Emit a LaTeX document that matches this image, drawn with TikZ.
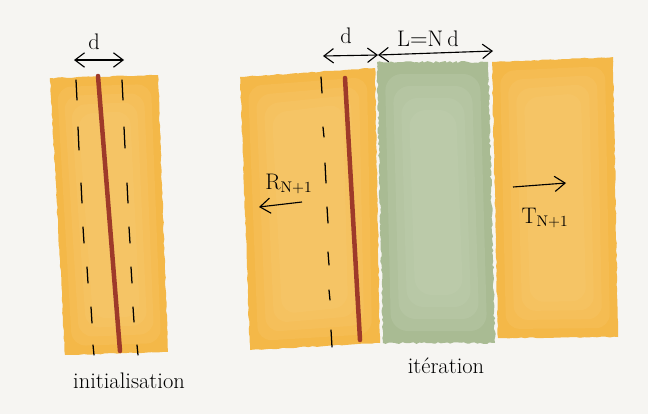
\documentclass[tikz,border=0pt]{standalone}
\usetikzlibrary{
    arrows.meta,
    decorations.pathmorphing
}
\definecolor{paper}{HTML}{F6F5F2}
\definecolor{amber}{HTML}{F4B848}
\definecolor{amberlight}{HTML}{F9CD78}
\definecolor{sage}{HTML}{A9BB93}
\definecolor{sagelight}{HTML}{C2CFB2}
\definecolor{rust}{HTML}{9E3A2A}

\begin{document}
\begin{tikzpicture}[
        x=0.025cm, y=-0.025cm,
        every node/.style={
            font=\fontsize{16pt}{19pt}\selectfont,
            inner sep=0pt
        },
        slab/.style={
            fill=amber,
            decorate,
            decoration={random steps, segment length=3pt, amplitude=0.4pt}
        },
        slabcore/.style={
            fill=amberlight,
            opacity=0.22,
            rounded corners=10pt
        },
        medium/.style={
            fill=sage,
            decorate,
            decoration={random steps, segment length=2pt, amplitude=0.7pt}
        },
        mediumcore/.style={
            fill=sagelight,
            opacity=0.3,
            rounded corners=12pt
        },
        layer/.style={
            draw=rust,
            line width=3.2pt,
            line cap=round
        },
        tick/.style={
            draw=black,
            line width=0.9pt,
            line cap=round
        },
        span/.style={
            {Straight Barb[length=2.4mm,width=3.6mm]}-{Straight Barb[length=2.4mm,width=3.6mm]},
            draw=black,
            line width=0.8pt
        },
        wave/.style={
            -{Straight Barb[length=2.6mm,width=3.8mm]},
            draw=black,
            line width=0.8pt
        }
    ]

    % background
    \fill[paper] (0,0) rectangle (648,414);

    % initialisation
    \fill[slab] (50,78) -- (158,75) -- (168,352) -- (65,355) -- cycle;
    \foreach \s in {1,...,4}
        \fill[slabcore] (50+7*\s,78+9*\s) -- (158-7*\s,75+9*\s)
            -- (168-7*\s,352-9*\s) -- (65+7*\s,355-9*\s) -- cycle;

    \draw[layer] (98,76) -- (120,351);

    \foreach \x/\ya/\yb in {76/80/100, 78/127/150, 81/183/203, 83/227/243,
                            87/267/283, 91/307/323, 93/345/355}
        \draw[tick] (\x,\ya) -- (\x+1,\yb);
    \foreach \x/\ya/\yb in {122/80/100, 124/127/148, 127/183/203, 129/227/243,
                            131/267/283, 133/307/322, 137/345/355}
        \draw[tick] (\x,\ya) -- (\x+1,\yb);

    \coordinate (dinitL) at (74,60);
    \coordinate (dinitR) at (124,60);
    \draw[span] (dinitL) -- (dinitR);
    \node (dinit) at (94,42) {d};

    \node (init) at (129,381) {initialisation};

    % iteration
    \fill[slab] (240,77) -- (375,68) -- (380,343) -- (250,350) -- cycle;
    \foreach \s in {1,...,4}
        \fill[slabcore] (240+8*\s,77+9*\s) -- (375-8*\s,68+9*\s)
            -- (380-8*\s,343-9*\s) -- (250+8*\s,350-9*\s) -- cycle;

    \fill[medium] (377,62) -- (488,62) -- (495,343) -- (383,343) -- cycle;
    \foreach \s in {1,...,4}
        \fill[mediumcore] (377+8*\s,62+12*\s) -- (488-8*\s,62+12*\s)
            -- (495-8*\s,343-12*\s) -- (383+8*\s,343-12*\s) -- cycle;

    \fill[slab] (492,62) -- (613,57) -- (618,337) -- (498,338) -- cycle;
    \foreach \s in {1,...,4}
        \fill[slabcore] (492+8*\s,62+9*\s) -- (613-8*\s,57+9*\s)
            -- (618-8*\s,337-9*\s) -- (498+8*\s,338-9*\s) -- cycle;

    \draw[layer] (345,78) -- (360,340);

    \foreach \x/\ya/\yb in {321/77/93, 323/127/137, 325/163/183, 327/207/223,
                            328/252/265, 329/290/300, 331/330/347}
        \draw[tick] (\x,\ya) -- (\x+1,\yb);

    \coordinate (diterL) at (323,56);
    \coordinate (diterR) at (378,55);
    \coordinate (lenR) at (493,51);
    \draw[span] (diterL) -- (diterR);
    \draw[span] (diterR) -- (lenR);
    \node (diter) at (346,36) {d};
    \node (len) at (428,39) {L${=}$N$\,$d};

    \node (refl) at (289,184) {R$_{\mathrm{N+1}}$};
    \coordinate (reflA) at (302,202);
    \coordinate (reflB) at (259,207);
    \draw[wave] (reflA) -- (reflB);

    \coordinate (tranA) at (513,187);
    \coordinate (tranB) at (566,183);
    \draw[wave] (tranA) -- (tranB);
    \node (tran) at (545,218) {T$_{\mathrm{N+1}}$};

    \node (iter) at (446,366) {itération};

\end{tikzpicture}
\end{document}
